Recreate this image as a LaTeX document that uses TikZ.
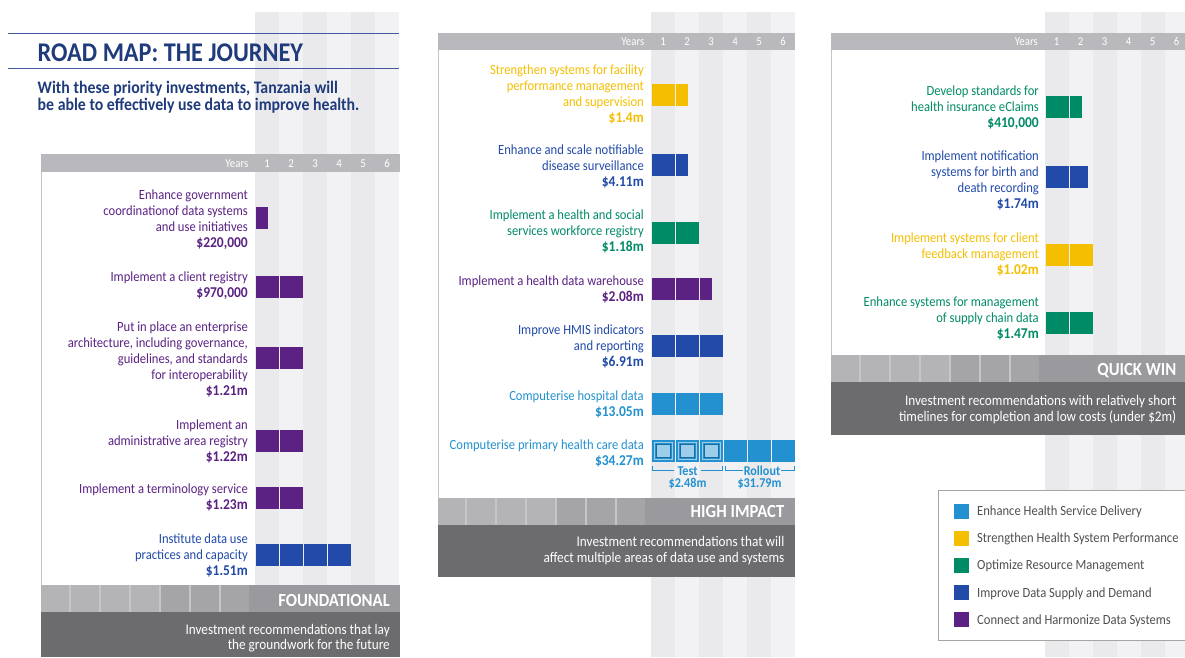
\documentclass[tikz,border=0pt]{standalone}
\usepackage{fontspec}
\setmainfont[FakeStretch=0.9]{Carlito}
\usetikzlibrary{calc}
\definecolor{cPurple}{HTML}{5B2283}
\definecolor{cBlue}{HTML}{214AA9}
\definecolor{cLBlue}{HTML}{2391D0}
\definecolor{cYellow}{HTML}{F4BF00}
\definecolor{cGreen}{HTML}{008B67}
\definecolor{navy}{HTML}{1F3B7B}
\definecolor{tline}{HTML}{4358A0}
\definecolor{hdrgrey}{HTML}{B9B9BD}
\definecolor{stA}{HTML}{EAEAEC}
\definecolor{stB}{HTML}{F2F2F4}
\definecolor{sqL}{HTML}{B4B4B7}
\definecolor{sqD}{HTML}{A5A5A8}
\definecolor{stripgap}{HTML}{C6C6C9}
\definecolor{stripR}{HTML}{9A9A9E}
\definecolor{band}{HTML}{6C6C6F}
\definecolor{panelline}{HTML}{C5C5C8}
\definecolor{legtext}{HTML}{505050}
\definecolor{legline}{HTML}{A5A5A5}
\tikzset{
 lab/.style={inner sep=0pt, font=\fontsize{14}{16}\selectfont},
 amt/.style={inner sep=0pt, font=\fontsize{15}{16}\selectfont\bfseries},
 yrs/.style={inner sep=0pt, text=white, font=\fontsize{12}{14}\selectfont},
 striptitle/.style={inner sep=0pt, text=white, font=\fontsize{18.5}{20}\selectfont\bfseries},
 desc/.style={inner sep=0pt, text=white, font=\fontsize{14.7}{16}\selectfont},
 legtxt/.style={inner sep=0pt, text=legtext, font=\fontsize{14}{16}\selectfont},
 tbl/.style={inner sep=0pt, text=cLBlue, font=\fontsize{13.5}{14}\selectfont\bfseries},
 brk/.style={draw=cLBlue, line width=0.9pt},
 titleline/.style={draw=tline, line width=1.3pt},
 heading/.style={inner sep=0pt, text=navy, font=\fontsize{27}{30}\selectfont\bfseries},
 subhead/.style={inner sep=0pt, text=navy, font=\fontsize{17.6}{18}\selectfont\bfseries},
}
\newcommand\stripes[1]{%
 \foreach \k in {0,...,5}{%
  \ifodd\k\relax\def\stc{stB}\else\def\stc{stA}\fi
  \fill[\stc] ({#1+24*\k},12) rectangle ({#1+24*\k+24},657);}}
% #1 name #2 left #3 stripe start #4 right #5 header top #6 strip top #7 band bottom
\newcommand\panelbox[7]{%
 \fill[white] (#2,{#5+17.5}) rectangle (#3,#6);
 \draw[draw=panelline, line width=0.8pt] ({#2+0.4},{#5+17.5}) -- ({#2+0.4},#6);
 \fill[hdrgrey] (#2,#5) rectangle (#4,{#5+17.5});
 \node[yrs,anchor=base east] (#1-yrs) at ({#3-6.5},{#5+13}) {Years};
 \foreach \k in {1,...,6}{\node[yrs,anchor=base] (#1-y\k) at ({#3-12+24*\k},{#5+13}) {\k};}
 \fill[stripgap] (#2,#6) rectangle ({#3-6},{#6+27});
 \fill[stripR] ({#3-6},#6) rectangle (#4,{#6+27});
 \foreach \k in {0,...,6}{%
   \ifnum\k<4\relax\def\sqc{sqL}\else\def\sqc{sqD}\fi
   \fill[\sqc] ({max(#2,#3-6-30*(7-\k)+2)},#6) rectangle ({#3-6-30*(6-\k)},{#6+27});}
 \fill[band] (#2,{#6+27}) rectangle (#4,#7);
}
% #1 stripe start #2 top #3 colour #4 full years #5 partial width
\newcommand\barrow[5]{%
 \ifnum#4>0 \foreach \k in {1,...,#4}{\fill[#3] ({#1+24*\k-23},#2) rectangle ({#1+24*\k},{#2+22});}\fi
 \ifdim#5pt>0pt \fill[#3] ({#1+24*#4+1},#2) rectangle ({#1+24*#4+1+#5},{#2+22});\fi}
% #1 name #2 x #3 first baseline #4 colour #5 lines #6 amount
\newcommand\investitem[6]{%
 \foreach \lline [count=\i] in {#5}{%
   \node[lab,text=#4,anchor=base east] (#1-\i) at (#2,{#3+16*(\i-1)}) {\lline};
   \xdef\lastn{\i}}%
 \node[amt,text=#4,anchor=base east] (#1-amt) at (#2,{#3+16*\lastn}) {#6};}
\begin{document}
\begin{tikzpicture}[x=1pt,y=-1pt]
\useasboundingbox (0,0) rectangle (1185,657);
\fill[white] (0,0) rectangle (1185,657);
% background year stripes
\stripes{255}
\stripes{651}
\stripes{1044.5}
% title
\draw[titleline] (8,33.3) -- (399,33.3);
\draw[titleline] (8,68.3) -- (399,68.3);
\node[heading,anchor=base west] (title) at (37.5,61) {ROAD MAP: THE JOURNEY};
\node[subhead,anchor=base west] (sub1) at (37.5,93) {With these priority investments, Tanzania will};
\node[subhead,anchor=base west] (sub2) at (37.5,110.7) {be able to effectively use data to improve health.};
% panels
\panelbox{L}{41}{255}{400}{154}{585}{657}
\panelbox{M}{438}{651}{795}{32.7}{497.7}{576.7}
\panelbox{Q}{830.5}{1044.5}{1185}{32.7}{355}{435}
% strip titles and descriptions
\node[striptitle,anchor=base east] (ftitle) at (390,606.7) {FOUNDATIONAL};
\node[desc,anchor=base east] (fdesc1) at (390,634) {Investment recommendations that lay};
\node[desc,anchor=base east] (fdesc2) at (390,649.5) {the groundwork for the future};
\node[striptitle,anchor=base east] (htitle) at (784.5,517.7) {HIGH IMPACT};
\node[desc,anchor=base east] (hdesc1) at (784.5,546.7) {Investment recommendations that will};
\node[desc,anchor=base east] (hdesc2) at (784.5,562.7) {affect multiple areas of data use and systems};
\node[striptitle,anchor=base east] (qtitle) at (1176.5,375) {QUICK WIN};
\node[desc,anchor=base east] (qdesc1) at (1176.5,405) {Investment recommendations with relatively short};
\node[desc,anchor=base east] (qdesc2) at (1176.5,421.5) {timelines for completion and low costs (under \$2m)};
% ---------- foundational ----------
\investitem{f1}{248}{199}{cPurple}{Enhance government, coordinationof data systems, and use initiatives}{\$220,000}
\barrow{255}{206.7}{cPurple}{0}{11.7}
\investitem{f2}{248}{281}{cPurple}{Implement a client registry}{\$970,000}
\barrow{255}{275.5}{cPurple}{2}{0}
\investitem{f3}{248}{331}{cPurple}{Put in place an enterprise, {architecture, including governance,}, {guidelines, and standards}, for interoperability}{\$1.21m}
\barrow{255}{347.3}{cPurple}{2}{0}
\investitem{f4}{248}{429}{cPurple}{Implement an, administrative area registry}{\$1.22m}
\barrow{255}{430}{cPurple}{2}{0}
\investitem{f5}{248}{493}{cPurple}{Implement a terminology service}{\$1.23m}
\barrow{255}{487}{cPurple}{2}{0}
\investitem{f6}{248}{543}{cBlue}{Institute data use, practices and capacity}{\$1.51m}
\barrow{255}{544.3}{cBlue}{4}{0}
% ---------- high impact ----------
\investitem{h1}{644}{74}{cYellow}{Strengthen systems for facility, performance management, and supervision}{\$1.4m}
\barrow{651}{84}{cYellow}{1}{12}
\investitem{h2}{644}{154.5}{cBlue}{Enhance and scale notifiable, disease surveillance}{\$4.11m}
\barrow{651}{154.3}{cBlue}{1}{12}
\investitem{h3}{644}{219.5}{cGreen}{Implement a health and social, services workforce registry}{\$1.18m}
\barrow{651}{221.7}{cGreen}{2}{0}
\investitem{h4}{644}{285.5}{cPurple}{Implement a health data warehouse}{\$2.08m}
\barrow{651}{278.3}{cPurple}{2}{12}
\investitem{h5}{644}{334.5}{cBlue}{Improve HMIS indicators, and reporting}{\$6.91m}
\barrow{651}{335}{cBlue}{3}{0}
\investitem{h6}{644}{400.5}{cLBlue}{Computerise hospital data}{\$13.05m}
\barrow{651}{393.3}{cLBlue}{3}{0}
\investitem{h7}{644}{449.3}{cLBlue}{Computerise primary health care data}{\$34.27m}
\barrow{651}{440}{cLBlue}{6}{0}
\foreach \k in {1,2,3}{%
  \draw[white!55!cLBlue, line width=0.7pt] ({651+24*\k-23+2.8},442.8) rectangle ({651+24*\k-2.8},459.2);
  \filldraw[fill=cLBlue!45!white, draw=cLBlue!75!black, line width=0.8pt] ({651+24*\k-23+4.4},444.4) rectangle ({651+24*\k-4.4},457.6);}
\node[tbl,anchor=base] (test) at (687.5,475) {Test};
\node[tbl,anchor=base] (testamt) at (687.5,487) {\$2.48m};
\node[tbl,anchor=base] (roll) at (762,475) {Rollout};
\node[tbl,anchor=base] (rollamt) at (759.5,487) {\$31.79m};
\coordinate (tL) at (652.7,466.3);
\coordinate (tR) at (722,466.3);
\coordinate (rL) at (725.3,466.3);
\coordinate (rR) at (794.3,466.3);
\draw[brk] (tL) |- ([xshift=-3pt]test.west);
\draw[brk] (tR) |- ([xshift=3pt]test.east);
\draw[brk] (rL) |- ([xshift=-1pt]roll.west);
\draw[brk] (rR) |- ([xshift=1pt]roll.east);
% ---------- quick win ----------
\investitem{q1}{1039}{95}{cGreen}{Develop standards for, health insurance eClaims}{\$410,000}
\barrow{1044.5}{96}{cGreen}{1}{12.6}
\investitem{q2}{1039}{160.5}{cBlue}{Implement notification, systems for birth and, death recording}{\$1.74m}
\barrow{1044.5}{166}{cBlue}{1}{18.2}
\investitem{q3}{1039}{242.5}{cYellow}{Implement systems for client, feedback management}{\$1.02m}
\barrow{1044.5}{244.3}{cYellow}{2}{0}
\investitem{q4}{1039}{306.5}{cGreen}{Enhance systems for management, of supply chain data}{\$1.47m}
\barrow{1044.5}{311.7}{cGreen}{2}{0}
% ---------- legend ----------
\filldraw[fill=white, draw=legline, line width=0.8pt] (938,490) rectangle (1192,640);
\foreach \c/\txt [count=\i] in {cLBlue/Enhance Health Service Delivery, cYellow/Strengthen Health System Performance, cGreen/Optimize Resource Management, cBlue/Improve Data Supply and Demand, cPurple/Connect and Harmonize Data Systems}{%
  \fill[\c] (954,{504+27.1*(\i-1)}) rectangle (969,{519+27.1*(\i-1)});
  \node[legtxt,anchor=base west] (leg\i) at (977,{515.7+27.1*(\i-1)}) {\txt};}
\end{tikzpicture}
\end{document}
